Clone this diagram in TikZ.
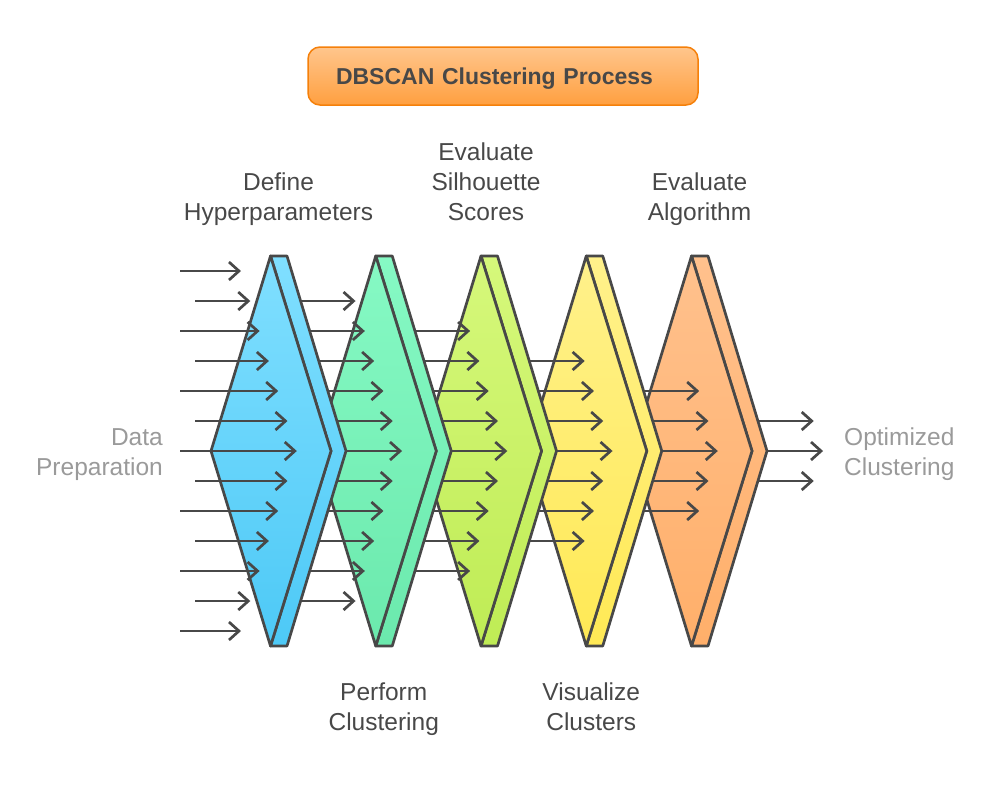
\documentclass[tikz,border=0pt]{standalone}
\usepackage{fontspec}
\setmainfont{Liberation Sans}
\usetikzlibrary{positioning,arrows.meta}

\definecolor{ink}{HTML}{484848}
\definecolor{faded}{HTML}{9A9A9A}
\definecolor{top1}{HTML}{80DFFF}
\definecolor{bot1}{HTML}{4DC9F6}
\definecolor{top2}{HTML}{86F9C4}
\definecolor{bot2}{HTML}{6BE9AD}
\definecolor{top3}{HTML}{D6F87B}
\definecolor{bot3}{HTML}{BFEC55}
\definecolor{top4}{HTML}{FFF18B}
\definecolor{bot4}{HTML}{FFE955}
\definecolor{top5}{HTML}{FFC18D}
\definecolor{bot5}{HTML}{FFAF6A}

\tikzset{
  flow/.style={draw=ink, line width=2.7pt, line join=round},
  ray/.style={draw=ink, line width=2.7pt, -{Straight Barb[length=10pt,width=18pt]}},
  stagetext/.style={text=ink, font=\fontsize{24.5}{30}\selectfont, align=center, inner sep=0pt},
  sidetext/.style={text=faded, font=\fontsize{24.5}{30}\selectfont, inner sep=0pt},
  titlebox/.style={draw=orange!85!brown, line width=1.5pt, rounded corners=12pt,
    top color=orange!45!white, bottom color=orange!75!white, text=ink,
    font=\bfseries\fontsize{23}{28}\selectfont, minimum height=58pt, text depth=0pt,
    inner xsep=28pt, text width=334pt, align=left},
}

\begin{document}
\begin{tikzpicture}[x=1pt, y=-1pt]
  \useasboundingbox (0,0) rectangle (1008,798);

  \node[titlebox] (title) at (503,76) {DBSCAN Clustering Process};

  % stages, back to front, with the arrows leaving each one
  \foreach \n in {5,4,3,2,1} {
    \pgfmathtruncatemacro\last{12-\n}
    \foreach \k in {\n,...,\last}
      \draw[ray] ({295+105.25*(\n-1)}, {271+30*\k}) -- ({241+105.25*\n+9.3*(6-abs(\k-6))}, {271+30*\k});
    \begin{scope}[xshift={105.25*(\n-1)}]
      \draw[flow, top color=top\n, bottom color=bot\n]
        (270.5,256) -- (287,256) -- (346,451) -- (287,646) -- (270.5,646) -- (331,451) -- cycle;
      \draw[flow, top color=top\n, bottom color=bot\n]
        (270.5,256) -- (331,451) -- (270.5,646) -- (211,451) -- cycle;
      \coordinate (top\n) at (278.5,256);
      \coordinate (foot\n) at (278.5,646);
    \end{scope}
  }

  % incoming data
  \foreach \k in {0,...,12} {
    \pgfmathsetmacro\tail{isodd(\k) ? 195 : 180}
    \draw[ray] (\tail, {271+30*\k}) -- ({241+9.3*(6-abs(\k-6))}, {271+30*\k});
  }

  \node[stagetext, above=36pt of top1, anchor=base] (define) {Define\\Hyperparameters};
  \node[stagetext, below=84pt of foot2, anchor=base] (perform) {Perform\\Clustering};
  \node[stagetext, above=36pt of top3, anchor=base, xshift=-3pt] (silhouette) {Evaluate\\Silhouette\\Scores};
  \node[stagetext, below=84pt of foot4, anchor=base, xshift=-3pt] (visualize) {Visualize\\Clusters};
  \node[stagetext, above=36pt of top5, anchor=base] (algorithm) {Evaluate\\Algorithm};

  \node[sidetext, align=right, anchor=base east] (data) at (163,475) {Data\\Preparation};
  \node[sidetext, align=left, anchor=base west] (optimized) at (844,475) {Optimized\\Clustering};
\end{tikzpicture}
\end{document}
